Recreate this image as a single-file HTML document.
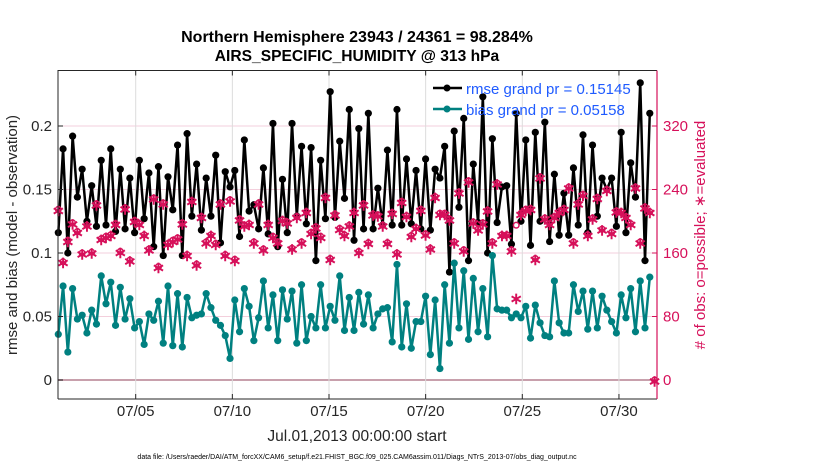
<!DOCTYPE html>
<html><head><meta charset="utf-8"><style>
body{margin:0;background:#fff;}
svg{display:block;font-family:"Liberation Sans",sans-serif;}
</style></head><body>
<svg id="chart" width="830" height="470" viewBox="0 0 830 470">
<g id="grid"></g>
<g id="series"></g>
<g id="axes"></g>
<text x="357" y="42" text-anchor="middle" font-size="16" font-weight="bold">Northern Hemisphere 23943 / 24361 = 98.284%</text>
<text x="357" y="61" text-anchor="middle" font-size="15.6" font-weight="bold">AIRS_SPECIFIC_HUMIDITY @ 313 hPa</text>
<text transform="translate(17,235) rotate(-90)" text-anchor="middle" font-size="15" fill="#262626">rmse and bias (model - observation)</text>
<text transform="translate(705,235) rotate(-90)" text-anchor="middle" font-size="15" fill="#d6105a"># of obs: o=possible; ∗=evaluated</text>
<text x="357" y="441" text-anchor="middle" font-size="15.5" fill="#262626">Jul.01,2013 00:00:00 start</text>
<text x="357" y="459" text-anchor="middle" font-size="7" fill="#000">data file: /Users/raeder/DAI/ATM_forcXX/CAM6_setup/f.e21.FHIST_BGC.f09_025.CAM6assim.011/Diags_NTrS_2013-07/obs_diag_output.nc</text>
<g>
<line x1="433" y1="88" x2="462" y2="88" stroke="#000" stroke-width="2.5"/>
<circle cx="447" cy="88" r="3.5" fill="#000"/>
<text x="466" y="94" font-size="15" fill="#1f5bff">rmse grand pr = 0.15145</text>
<line x1="433" y1="109" x2="462" y2="109" stroke="#008080" stroke-width="2.5"/>
<circle cx="447" cy="109" r="3.5" fill="#008080"/>
<text x="466" y="115" font-size="15" fill="#1f5bff">bias grand pr = 0.05158</text>
</g>
</svg>
<script>
const rmse=[.116,.182,.100,.192,.144,.166,.125,.153,.121,.173,.122,.182,.117,.166,.119,.159,.116,.173,.127,.163,.105,.168,.098,.160,.134,.185,.098,.194,.129,.170,.118,.159,.129,.177,.108,.164,.152,.165,.113,.189,.133,.138,.119,.167,.115,.202,.105,.158,.116,.202,.129,.184,.123,.183,.094,.173,.127,.227,.128,.188,.143,.213,.110,.198,.119,.210,.119,.151,.122,.181,.122,.213,.122,.174,.123,.165,.119,.174,.118,.166,.159,.184,.085,.196,.136,.206,.094,.170,.124,.223,.100,.190,.124,.152,.153,.107,.210,.125,.189,.106,.195,.125,.203,.109,.162,.114,.147,.114,.167,.122,.193,.116,.185,.129,.159,.150,.159,.121,.195,.116,.171,.144,.234,.094,.210];
const bias=[.036,.074,.022,.072,.048,.051,.037,.055,.044,.082,.060,.077,.043,.073,.048,.064,.041,.046,.028,.052,.047,.062,.029,.074,.027,.068,.026,.065,.049,.051,.052,.068,.057,.047,.043,.035,.017,.063,.038,.072,.058,.031,.049,.078,.041,.067,.031,.071,.048,.070,.029,.075,.031,.050,.041,.075,.041,.058,.047,.082,.039,.065,.039,.069,.044,.067,.041,.052,.056,.057,.030,.091,.026,.060,.025,.046,.046,.066,.020,.063,.009,.075,.029,.092,.041,.086,.032,.080,.038,.072,.034,.098,.056,.055,.055,.049,.052,.049,.058,.033,.059,.045,.035,.034,.078,.045,.037,.037,.075,.054,.070,.040,.070,.041,.066,.055,.046,.037,.067,.049,.072,.038,.078,.041,.081];
const evaluated=[215,149,176,198,187,160,195,161,222,178,181,183,197,162,217,151,201,197,183,165,229,143,223,172,176,179,198,158,226,146,206,174,183,172,223,158,227,152,203,195,197,174,223,165,197,181,174,202,199,166,206,174,212,186,193,181,231,153,209,191,183,195,212,162,222,173,209,208,195,173,211,160,225,207,182,192,215,184,166,231,210,210,203,174,237,164,251,199,190,198,214,174,248,183,183,164,104,210,215,216,153,256,204,197,206,212,216,243,174,223,234,183,204,230,190,240,186,213,212,206,197,243,174,218,212,0];
const possible=evaluated.map((v,i)=>i===96?195:v);
const leftTicks=[0,0.05,0.1,0.15,0.2];
const leftTickLabels=["0","0.05","0.1","0.15","0.2"];
const rightTicks=[0,80,160,240,320];
const dateTicks=[5,10,15,20,25,30];
const dateTickLabels=["07/05","07/10","07/15","07/20","07/25","07/30"];

const NS="http://www.w3.org/2000/svg";
const L=58,R=657,T=70.5,B=399;
const xS=i=>58.3+i*4.77;
const dayX=d=>135.7+(d-5)*19.33;
const yS=v=>380-v*1270;
const y2S=c=>380-c*63.5/80;
function mk(parent,tag,attrs){const e=document.createElementNS(NS,tag);for(const k in attrs)e.setAttribute(k,attrs[k]);document.getElementById(parent).appendChild(e);return e;}

leftTicks.forEach((v,i)=>{
  const g=mk('grid','line',{x1:L,x2:R,y1:yS(v),y2:yS(v),stroke:i===0?'#c8a0ac':'#f3cfdc','stroke-width':i===0?2:1});
  
  
});
dateTicks.forEach(d=>{
  const g=mk('grid','line',{x1:dayX(d),x2:dayX(d),y1:T,y2:B,stroke:'#dcdcdc','stroke-width':1});
  
  
});

function series(data,color,name){
  const pts=data.map((v,i)=>xS(i)+','+yS(v)).join(' ');
  const pl=mk('series','polyline',{points:pts,fill:'none',stroke:color,'stroke-width':2.5,'stroke-linejoin':'round'});
  
  
  data.forEach((v,i)=>{
    const c=mk('series','circle',{cx:xS(i),cy:yS(v),r:3.6,fill:color});
    
    
  });
}
series(rmse,'#000','rmse');
series(bias,'#008080','bias');

const red='#d6105a';
possible.forEach((c,i)=>{
  const o=mk('series','circle',{cx:xS(i),cy:y2S(c),r:2.8,fill:'none',stroke:red,'stroke-width':1.5});
  
  
});
evaluated.forEach((c,i)=>{
  const t=mk('series','text',{x:xS(i),y:y2S(c)+6.5,'text-anchor':'middle','font-size':16,'font-weight':'bold',fill:red});
  t.textContent='∗';
  
  
});

const fr=mk('axes','path',{d:`M${L},${B}V${T}H${R}`,fill:'none',stroke:'#262626','stroke-width':1});


const bx=mk('axes','line',{x1:L,x2:R,y1:B,y2:B,stroke:'#262626','stroke-width':1});


const ry=mk('axes','line',{x1:R,x2:R,y1:T,y2:B,stroke:red,'stroke-width':1.2});


leftTicks.forEach((v,i)=>{
  const t=mk('axes','text',{x:L-6,y:yS(v)+5,'text-anchor':'end','font-size':15,fill:'#262626'});
  t.textContent=leftTickLabels[i];
  
  
  const tk=mk('axes','line',{x1:L,x2:L+5,y1:yS(v),y2:yS(v),stroke:'#262626'});
  
  
});
rightTicks.forEach(c=>{
  const t=mk('axes','text',{x:R+6,y:y2S(c)+5,'font-size':15,fill:red});
  t.textContent=c;
  
  
  const tk=mk('axes','line',{x1:R-5,x2:R,y1:y2S(c),y2:y2S(c),stroke:red});
  
  
});
dateTicks.forEach((d,i)=>{
  const t=mk('axes','text',{x:dayX(d),y:B+17,'text-anchor':'middle','font-size':15,fill:'#262626'});
  t.textContent=dateTickLabels[i];
  
  
  const tk=mk('axes','line',{x1:dayX(d),x2:dayX(d),y1:B,y2:B-5,stroke:'#262626'});
  
  
  const tk2=mk('axes','line',{x1:dayX(d),x2:dayX(d),y1:T,y2:T+5,stroke:'#262626'});
  
  
});
</script>
</body></html>
